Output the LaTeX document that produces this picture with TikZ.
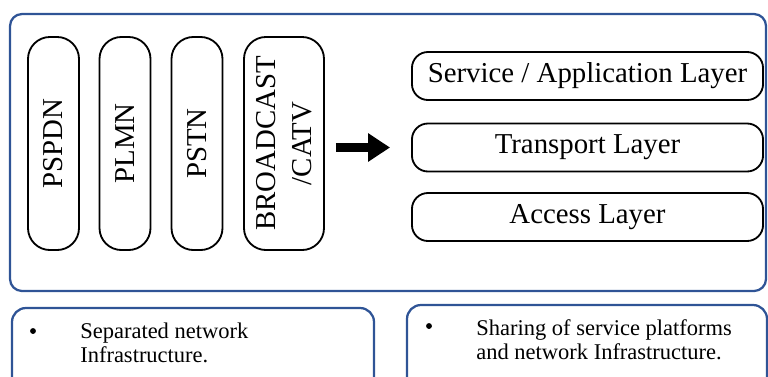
\documentclass[tikz,border=0pt]{standalone}
\usepackage{fontspec}
\setmainfont{Liberation Serif}
\usetikzlibrary{arrows.meta,positioning}
\definecolor{netblue}{RGB}{47,84,150}

\tikzset{
  pill/.style={draw, line width=1.3pt, rounded corners=0.55cm, rotate=90, minimum width=5.325cm, minimum height=1.275cm, inner sep=0pt, align=center, font=\fontsize{20.5}{26}\selectfont},
  layer/.style={draw, line width=1.3pt, rounded corners=0.4cm, minimum width=8.775cm, minimum height=1.2cm, inner sep=0pt, font=\fontsize{20.5}{24}\selectfont},
  frame/.style={netblue, line width=1.6pt, rounded corners=0.35cm},
  infotext/.style={anchor=north west, inner sep=0pt, align=left, font=\fontsize{16}{17}\selectfont},
  dot/.style={circle, fill=black, inner sep=0pt, minimum size=4.2pt},
  bigarrow/.style={-{Triangle[length=0.55cm,width=0.68cm]}, line width=7pt}
}

\begin{document}
\begin{tikzpicture}[x=0.025cm, y=-0.025cm]
  \useasboundingbox (0,0) rectangle (768,376);
  \clip (0,0) rectangle (768,376);

  % Outer frame
  \draw[frame, rounded corners=0.3cm] (10,14) rectangle (766,291);

  % Separated networks
  \node[pill] (pspdn) at (53.5,143.5) {PSPDN};
  \node[pill] (plmn) at (125,143.5) {PLMN};
  \node[pill] (pstn) at (197,143.5) {PSTN};
  \node[pill, minimum height=2cm] (bcast) at (284,143.5) {BROADCAST\\/CATV};

  % Layers
  \node[layer] (serv) at (587.5,76) {Service / Application Layer};
  \node[layer] (trans) at (587.5,147.5) {Transport Layer};
  \node[layer] (acc) at (587.5,217) {Access Layer};

  \draw[bigarrow, shorten <=0.275cm, shorten >=0.525cm] (bcast.south |- trans.west) -- (trans.west);

  % Bottom notes
  \draw[frame] (12,308) rectangle (374,400);
  \node[dot] (dotl) at (33,331) {};
  \node[infotext] (sepnote) at (80,323) {Separated network\\Infrastructure.};

  \draw[frame] (407,305) rectangle (767,400);
  \node[dot] (dotr) at (429,326) {};
  \node[infotext] (sharenote) at (476,319) {Sharing of service platforms\\and network Infrastructure.};
\end{tikzpicture}
\end{document}
